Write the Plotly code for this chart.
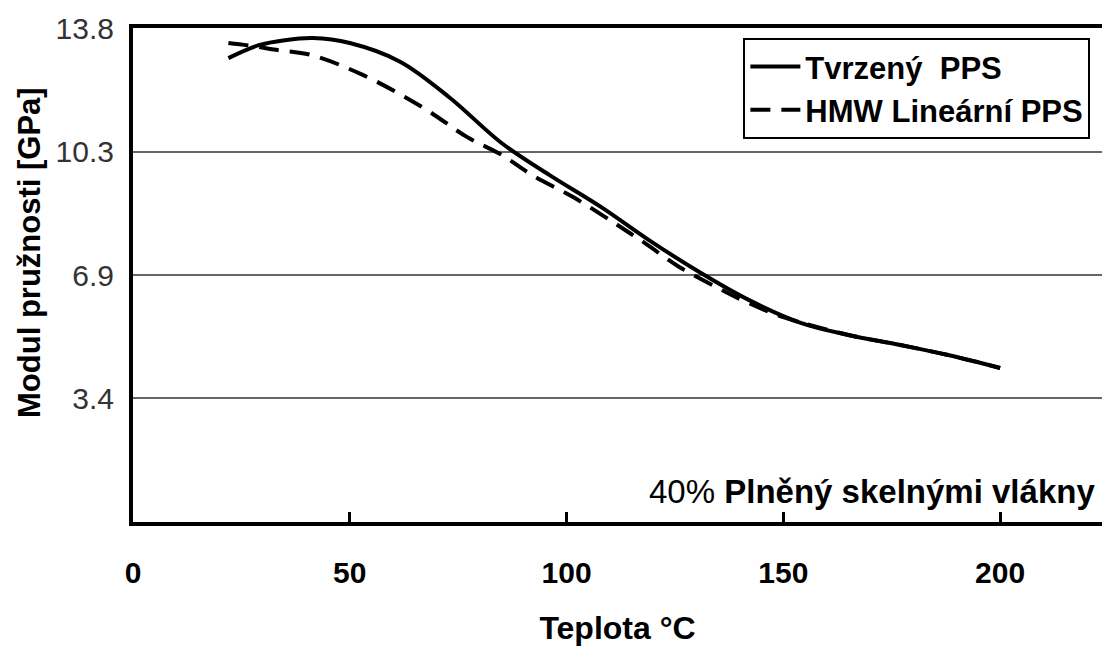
import plotly.graph_objects as go

# Data
solid_x = [22, 29, 35, 41.5, 50, 61.6, 73, 85, 96, 108, 119, 131, 142, 154, 165, 177, 188, 200]
solid_y = [12.95, 13.31, 13.45, 13.51, 13.37, 12.85, 11.85, 10.58, 9.69, 8.79, 7.87, 6.95, 6.2, 5.56, 5.22, 4.94, 4.66, 4.3]

dash_x = [22, 28, 33, 41, 53, 67, 77, 85, 92, 101.5, 111, 118, 126, 135, 142, 150, 165, 177, 188, 200]
dash_y = [13.37, 13.28, 13.18, 13.04, 12.48, 11.56, 10.75, 10.25, 9.69, 9.07, 8.35, 7.79, 7.12, 6.53, 6.11, 5.72, 5.22, 4.94, 4.66, 4.3]

x_ticks = [0, 50, 100, 150, 200]
y_tickvals = [3.45, 6.895, 10.34, 13.79]
y_ticktext = ["3.4", "6.9", "10.3", "13.8"]

FONT = "Liberation Sans, Arial, sans-serif"

fig = go.Figure()
fig.add_trace(go.Scatter(
    x=solid_x, y=solid_y, mode="lines", name="Tvrzený  PPS",
    line=dict(color="black", width=4, shape="spline", smoothing=1.0),
))
fig.add_trace(go.Scatter(
    x=dash_x, y=dash_y, mode="lines", name="HMW Lineární PPS",
    line=dict(color="black", width=4, dash="20px,11px", shape="spline", smoothing=1.0),
))

# note text inside the plot
fig.add_annotation(
    text="40% <b>Plněný skelnými vlákny</b>",
    xref="paper", yref="y", x=0.9948, y=0.865, xanchor="right", yanchor="middle",
    showarrow=False, font=dict(family=FONT, size=33, color="black"),
)

# y-axis title (annotation to match its slightly off-centre position)
fig.add_annotation(
    text="<b>Modul pružnosti [GPa]</b>", textangle=-90,
    xref="paper", yref="paper", x=-0.1063, y=0.5466,
    xanchor="center", yanchor="middle", showarrow=False,
    font=dict(family=FONT, size=31, color="black"),
)

fig.update_layout(
    width=1102, height=646,
    margin=dict(l=133, r=0, t=28, b=124, autoexpand=False),
    paper_bgcolor="white", plot_bgcolor="white",
    showlegend=True,
    legend=dict(
        x=0.988, y=0.98, xanchor="right", yanchor="top",
        bordercolor="black", borderwidth=2, bgcolor="white",
        font=dict(family=FONT, size=31, color="black", weight="bold"),
        tracegroupgap=0, itemwidth=50,
    ),
    xaxis=dict(
        range=[0, 223.5], tickvals=x_ticks, showgrid=False, zeroline=False,
        showline=True, linecolor="black", linewidth=4, mirror=True,
        ticks="inside", ticklen=10, tickwidth=3, tickcolor="black",
        ticklabelstandoff=21, automargin=False,
        tickfont=dict(family=FONT, size=30, color="black", weight="bold"),
        title=dict(text="<b>Teplota °C</b>", standoff=31,
                   font=dict(family=FONT, size=32, color="black")),
    ),
    yaxis=dict(
        range=[0, 13.79], tickvals=y_tickvals, ticktext=y_ticktext,
        showgrid=True, gridcolor="#666666", gridwidth=1.5, zeroline=False,
        showline=True, linecolor="black", linewidth=4, mirror=False,
        ticks="", ticklabelstandoff=9, automargin=False,
        tickfont=dict(family=FONT, size=30, color="#333333"),
    ),
)

# remove the browser's default 8px page margin so the figure fills the window exactly
fig.write_html(
    "out.html",
    config={"displayModeBar": False},
    post_script="document.body.style.margin='0';document.body.style.overflow='hidden';",
)
